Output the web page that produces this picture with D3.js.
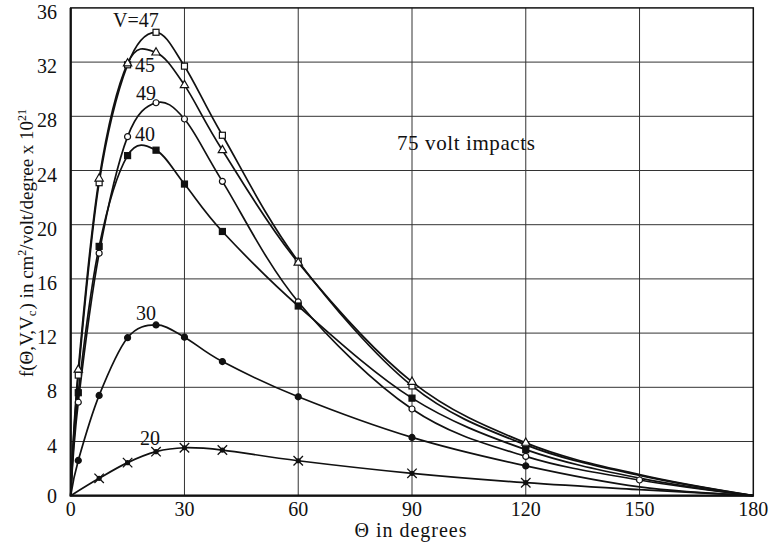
<!DOCTYPE html>
<html lang="en">
<head>
<meta charset="utf-8">
<script src="https://d3js.org/d3.v7.min.js"></script>
<style type="text/css">
body {
	margin: 0;
	background: #fff;
}
text {
	font-family: "Liberation Serif", serif;
	fill: #111;
}
</style>
</head>
<body>
<script type="text/javascript">

// angles (degrees) at which the curves were read
var angles = [0, 2, 7.5, 15, 22.5, 30, 40, 60, 90, 120, 150, 180];

// f(theta, V, Vc) x 10^21 for each retarding voltage, 75 volt impacts
var v47 = [0, 8.9, 23.1, 31.8, 34.2, 31.7, 26.6, 17.3, 8.1, 3.75, 1.5, 0];
var v45 = [0, 9.3, 23.4, 31.9, 32.7, 30.3, 25.5, 17.2, 8.4, 3.9, 1.55, 0];
var v49 = [0, 6.9, 17.9, 26.5, 29.0, 27.8, 23.2, 14.3, 6.4, 2.9, 1.16, 0];
var v40 = [0, 7.6, 18.4, 25.1, 25.5, 23.0, 19.5, 14.0, 7.2, 3.4, 1.3, 0];
var v30 = [0, 2.6, 7.4, 11.66, 12.6, 11.7, 9.9, 7.3, 4.3, 2.2, 0.65, 0];
var v20 = [0, null, 1.28, 2.44, 3.25, 3.54, 3.37, 2.58, 1.65, 0.96, 0.45, 0];

var curveLabels = ["V=47", "45", "49", "40", "30", "20"];
var markTypes = ["square", "triangle", "circle", "filledSquare", "dot", "cross"];
// angles drawn without a marker (the 49 curve has one at 150)
var unmarked = [0, 150, 180];

var xTicks = [0, 30, 60, 90, 120, 150, 180];
var yTicks = [0, 4, 8, 12, 16, 20, 24, 28, 32, 36];

var width = 769;
var height = 544;

var svg = d3.select("body")
	.append("svg")
	.attr("width", width)
	.attr("height", height);

var x = d3.scaleLinear().domain([0, 180]).range([70.7, 753.3]);
var y = d3.scaleLinear().domain([0, 36]).range([495.7, 7.9]);

// grid
svg.append("g").selectAll("line")
	.data(xTicks.slice(1, -1))
	.enter().append("line")
	.attr("x1", function(d) { return x(d); })
	.attr("x2", function(d) { return x(d); })
	.attr("y1", y(0))
	.attr("y2", y(36))
	.style("stroke", "#333")
	.style("stroke-width", 1);

svg.append("g").selectAll("line")
	.data(yTicks.slice(1, -1))
	.enter().append("line")
	.attr("x1", x(0))
	.attr("x2", x(180))
	.attr("y1", function(d) { return y(d); })
	.attr("y2", function(d) { return y(d); })
	.style("stroke", "#333")
	.style("stroke-width", 1);

// frame
svg.append("rect")
	.attr("x", x(0))
	.attr("y", y(36))
	.attr("width", x(180) - x(0))
	.attr("height", y(0) - y(36))
	.style("fill", "none")
	.style("stroke", "#111")
	.style("stroke-width", 1.5);
svg.append("path")
	.attr("d", "M" + x(0) + "," + y(36) + "V" + y(0) + "H" + x(180))
	.style("fill", "none")
	.style("stroke", "#111")
	.style("stroke-width", 2.2);

// tick labels
svg.append("g").selectAll("text")
	.data(xTicks)
	.enter().append("text")
	.attr("x", function(d) { return x(d); })
	.attr("y", 516)
	.attr("text-anchor", "middle")
	.style("font-size", "20px")
	.text(function(d) { return d; });

svg.append("g").selectAll("text")
	.data(yTicks)
	.enter().append("text")
	.attr("x", 57)
	.attr("y", function(d) { return d == 0 ? y(d) : y(d) + 4; })
	.attr("dy", "0.35em")
	.attr("text-anchor", "end")
	.style("font-size", "20px")
	.text(function(d) { return d; });

// axis titles
svg.append("text")
	.attr("x", 411)
	.attr("y", 537)
	.attr("text-anchor", "middle")
	.style("font-size", "20px")
	.style("letter-spacing", "1px")
	.text("\u0398 in degrees");

var yTitle = svg.append("text")
	.attr("transform", "translate(33,243) rotate(-90)")
	.attr("text-anchor", "middle")
	.style("font-size", "19px");
yTitle.append("tspan").text("f(\u0398,V,V");
yTitle.append("tspan").attr("baseline-shift", "-25%").style("font-size", "13px").text("c");
yTitle.append("tspan").attr("dx", 1).text(") in cm");
yTitle.append("tspan").attr("baseline-shift", "super").style("font-size", "12px").text("2");
yTitle.append("tspan").text("/volt/degree x 10");
yTitle.append("tspan").attr("baseline-shift", "super").style("font-size", "12px").text("21");

svg.append("text")
	.attr("x", 397)
	.attr("y", 150)
	.style("font-size", "21px")
	.style("letter-spacing", "0.6px")
	.text("75 volt impacts");

// curves
var allValues = [v47, v45, v49, v40, v30, v20];
var series = allValues.map(function(vals, i) {
	var pts = [];
	angles.forEach(function(a, j) {
		if (vals[j] !== null) pts.push({a: a, v: vals[j]});
	});
	return {label: curveLabels[i], type: markTypes[i], points: pts};
});

var line = d3.line()
	.x(function(d) { return x(d.a); })
	.y(function(d) { return y(d.v); })
	.curve(d3.curveCatmullRom.alpha(0));

svg.append("g").selectAll("path")
	.data(series)
	.enter().append("path")
	.attr("d", function(d) { return line(d.points); })
	.style("fill", "none")
	.style("stroke", "#111")
	.style("stroke-width", 1.7);

// markers
series.forEach(function(s) {
	var pts = s.points.filter(function(p) {
		if (s.label == "49" && p.a == 150) return true;
		return unmarked.indexOf(p.a) < 0;
	});
	var g = svg.append("g");
	var m = g.selectAll("g").data(pts).enter().append("g")
		.attr("transform", function(p) { return "translate(" + x(p.a) + "," + y(p.v) + ")"; });
	if (s.type == "square" || s.type == "filledSquare") {
		m.append("rect")
			.attr("x", -3).attr("y", -3).attr("width", 6).attr("height", 6)
			.style("fill", s.type == "square" ? "#fff" : "#111")
			.style("stroke", "#111").style("stroke-width", 1.2);
	} else if (s.type == "triangle") {
		m.append("path")
			.attr("d", d3.symbol().type(d3.symbolTriangle).size(30))
			.style("fill", "#fff")
			.style("stroke", "#111").style("stroke-width", 1.2);
	} else if (s.type == "circle" || s.type == "dot") {
		m.append("circle")
			.attr("r", 3)
			.style("fill", s.type == "circle" ? "#fff" : "#111")
			.style("stroke", "#111").style("stroke-width", 1.2);
	} else {
		m.append("circle").attr("r", 2.6).style("fill", "#111");
		m.append("path")
			.attr("d", d3.symbol().type(d3.symbolTimes).size(60))
			.style("fill", "none")
			.style("stroke", "#111").style("stroke-width", 1.3);
	}
});

// curve labels
var labelPos = [[113, 27], [135, 72], [136, 100], [135, 141], [136, 320], [140, 445]];
svg.append("g").selectAll("text")
	.data(curveLabels)
	.enter().append("text")
	.attr("x", function(d, i) { return labelPos[i][0]; })
	.attr("y", function(d, i) { return labelPos[i][1]; })
	.style("font-size", "20px")
	.text(function(d) { return d; });

</script>
</body>
</html>
